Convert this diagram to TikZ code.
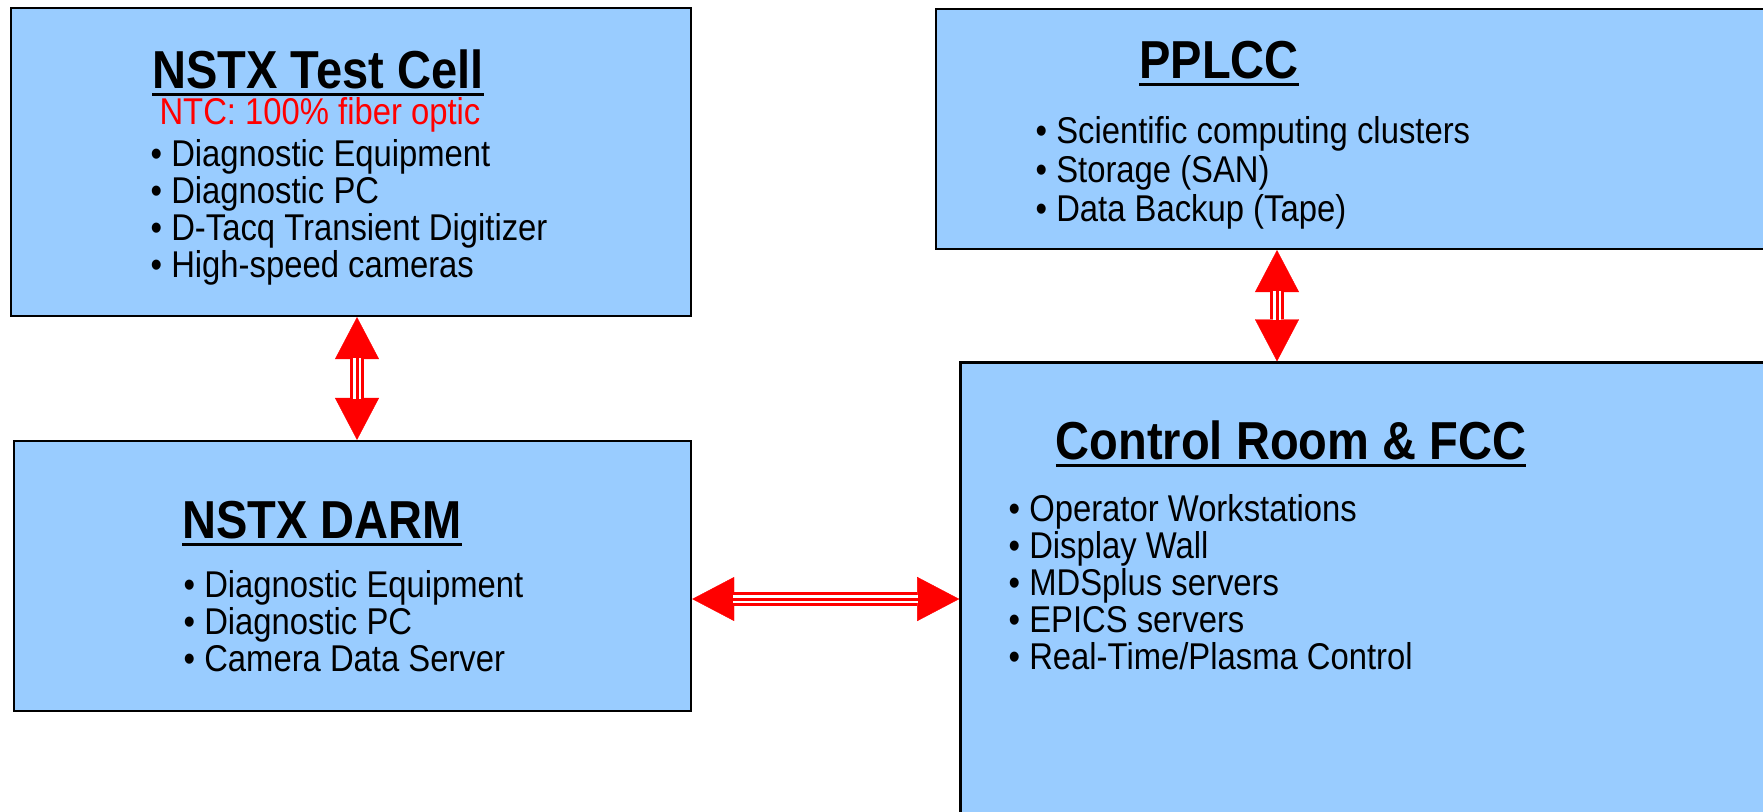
\documentclass[tikz,border=0pt]{standalone}
\usepackage{fontspec}
\setmainfont{Liberation Sans}[FakeStretch=0.88]
\usetikzlibrary{arrows.meta}
\definecolor{boxblue}{RGB}{153,204,255}
\newcommand{\boxtitle}[1]{\setbox0\hbox{#1}\rlap{\rule[-2.3pt]{\wd0}{0.9pt}}\box0}
\tikzset{
  box/.style={draw=black, fill=boxblue, line width=0.2mm, inner sep=0pt},
  ttl/.style={anchor=base, inner sep=0pt, font=\fontsize{15.2}{18}\selectfont\bfseries},
  itm/.style={anchor=base west, inner sep=0pt, font=\fontsize{10.6}{12}\selectfont},
  tip/.style={Triangle[length=4.2mm, width=4.4mm, line width=0.1pt]},
  link/.style={red, line width=1.4mm, {Triangle[length=4.2mm, width=4.4mm, line width=0.1pt]}-{Triangle[length=4.2mm, width=4.4mm, line width=0.1pt]},
    postaction={draw=white, line width=0.8mm, arrows=-, shorten <=4.1mm, shorten >=4.1mm},
    postaction={draw=red, line width=0.3mm, arrows=-, shorten <=4.1mm, shorten >=4.1mm}}
}
\begin{document}
\begin{tikzpicture}[x=0.01cm, y=-0.01cm]
\useasboundingbox (0,0) rectangle (1763,811);
\clip (0,0) rectangle (1763,811);
% the four rooms
\node[box, minimum width=6.8cm, minimum height=3.08cm] (tc) at (351,162) {};
\node[box, minimum width=6.77cm, minimum height=2.7cm] (darm) at (352.5,576) {};
\node[box, minimum width=8.64cm, minimum height=2.4cm] (ppl) at (1368,129) {};
\node[box, line width=0.3mm, minimum width=8.39cm, minimum height=4.87cm] (ctrl) at (1380.5,606.5) {};
% titles
\node[ttl] (tc-t) at (318,88) {\boxtitle{NSTX Test Cell}};
\node[anchor=base, inner sep=0pt, red, font=\fontsize{10.6}{12}\selectfont] (tc-n) at (320,124) {NTC: 100\% fiber optic};
\node[ttl] (darm-t) at (322,538) {\boxtitle{NSTX DARM}};
\node[ttl] (ppl-t) at (1219,78) {\boxtitle{PPLCC}};
\node[ttl] (ctrl-t) at (1291,459) {\boxtitle{Control Room \& FCC}};
% bullet lists
\foreach \t [count=\i] in {Diagnostic Equipment, Diagnostic PC, D-Tacq Transient Digitizer, High-speed cameras}
  \node[itm] (tc-\i) at (150,129+37*\i) {• \t};
\foreach \t [count=\i] in {Diagnostic Equipment, Diagnostic PC, Camera Data Server}
  \node[itm] (darm-\i) at (183,560+37*\i) {• \t};
\foreach \t [count=\i] in {Scientific computing clusters, Storage (SAN), Data Backup (Tape)}
  \node[itm] (ppl-\i) at (1035,104+39*\i) {• \t};
\foreach \t [count=\i] in {Operator Workstations, Display Wall, MDSplus servers, EPICS servers, Real-Time/Plasma Control}
  \node[itm] (ctrl-\i) at (1008,484+37*\i) {• \t};
% links
\coordinate (vx) at (357,0);
\coordinate (hy) at (0,599);
\coordinate (ux) at (1277,0);
\draw[link] (tc.south -| vx) -- (darm.north -| vx);
\draw[link] (darm.east |- hy) -- (ctrl.west |- hy);
\draw[link] (ppl.south -| ux) -- (ctrl.north -| ux);
\end{tikzpicture}
\end{document}
